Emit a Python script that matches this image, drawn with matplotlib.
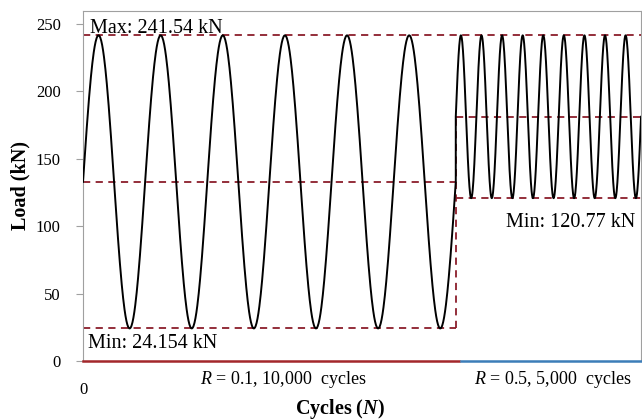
import numpy as np
import matplotlib
matplotlib.use("Agg")
import matplotlib.pyplot as plt

plt.rcParams['font.family'] = ['Liberation Serif', 'DejaVu Serif']
plt.rcParams['mathtext.fontset'] = 'custom'
plt.rcParams['mathtext.rm'] = 'Liberation Serif'
plt.rcParams['mathtext.it'] = 'Liberation Serif:italic'
plt.rcParams['mathtext.bf'] = 'Liberation Serif:bold'
plt.rcParams['mathtext.bfit'] = 'Liberation Serif:bold:italic'

# loading blocks (schematic)
load_max = [241.54, 241.54]
load_min = [24.154, 120.77]
r_ratio = [0.1, 0.5]
block_cycles = ["10,000", "5,000"]
cycles_drawn = [6, 9]
block_width = [0.668, 0.332]
yticks = [0, 50, 100, 150, 200, 250]

dash_col = '#8B1E2B'
block_cols = ['#A3272B', '#3C7DB8']

fig = plt.figure(figsize=(6.42, 4.2), dpi=100)
ax = fig.add_axes([0.1293, 0.1405, 0.8692, 0.8333])

x0 = 0.0
xs, ys = [], []
bounds = []
for mx, mn, nc, w in zip(load_max, load_min, cycles_drawn, block_width):
    mean = (mx + mn) / 2
    amp = (mx - mn) / 2
    t = np.linspace(0, 1, 800)
    xs.append(x0 + t * w)
    ys.append(mean + amp * np.sin(2 * np.pi * nc * t))
    bounds.append((x0, x0 + w, mx, mn, mean))
    x0 += w
ax.plot(np.concatenate(xs), np.concatenate(ys), color='black', lw=1.4, zorder=3)

dash = dict(color=dash_col, lw=1.3, ls=(0, (4, 3)), zorder=2)
xa, xb, mx1, mn1, mean1 = bounds[0]
xc, xd, mx2, mn2, mean2 = bounds[1]
ax.plot([xa, xd], [mx1, mx1], **dash)
ax.plot([xa, xb], [mean1, mean1], **dash)
ax.plot([xa, xb], [mn1, mn1], **dash)
ax.plot([xb, xb], [mn1, mean2], **dash)
ax.plot([xc, xd], [mean2, mean2], **dash)
ax.plot([xc, xd], [mn2, mn2], **dash)

# block bars along the axis
gap = 0.005
ax.plot([xa, xb + gap], [0, 0], color=block_cols[0], lw=1.8, clip_on=False, zorder=4)
ax.plot([xc + 2 * gap, xd], [0, 0], color=block_cols[1], lw=1.8, clip_on=False, zorder=4)

ax.text(0.012, 246.5, 'Max: %.2f kN' % mx1, fontsize=14.5, va='center', ha='left')
ax.text(0.009, 13, 'Min: %.3f kN' % mn1, fontsize=14.5, va='center', ha='left')
ax.text(0.99, 103, 'Min: %.2f kN' % mn2, fontsize=14.5, va='center', ha='right')

for (a, b, *_), r, nc in zip(bounds, r_ratio, block_cycles):
    ax.text((a + b) / 2 + (0.025 if r == 0.1 else 0.008), -13.5,
            r'$R$ = %g, %s  cycles' % (r, nc), fontsize=13, ha='center', va='center')

ax.set_xlim(0, 1)
ax.set_ylim(0, 259.6)
ax.set_yticks(yticks)
ax.set_xticks([0])
ax.set_xticklabels(['0'])
ax.tick_params(axis='y', length=5, color='#A0A0A0', labelsize=12, pad=11)
ax.tick_params(axis='x', length=0, labelsize=12, pad=15)
for s in ['left', 'top', 'right']:
    ax.spines[s].set_color('#A0A0A0')
ax.spines['bottom'].set_visible(False)

ax.set_ylabel('Load (kN)', fontsize=14.5, fontweight='bold', labelpad=4)
ax.set_xlabel(r'Cycles ($\mathbfit{N}$)', fontsize=14.5, fontweight='bold')
ax.xaxis.set_label_coords(0.46, -0.104)

fig.savefig('out.png', dpi=100)
